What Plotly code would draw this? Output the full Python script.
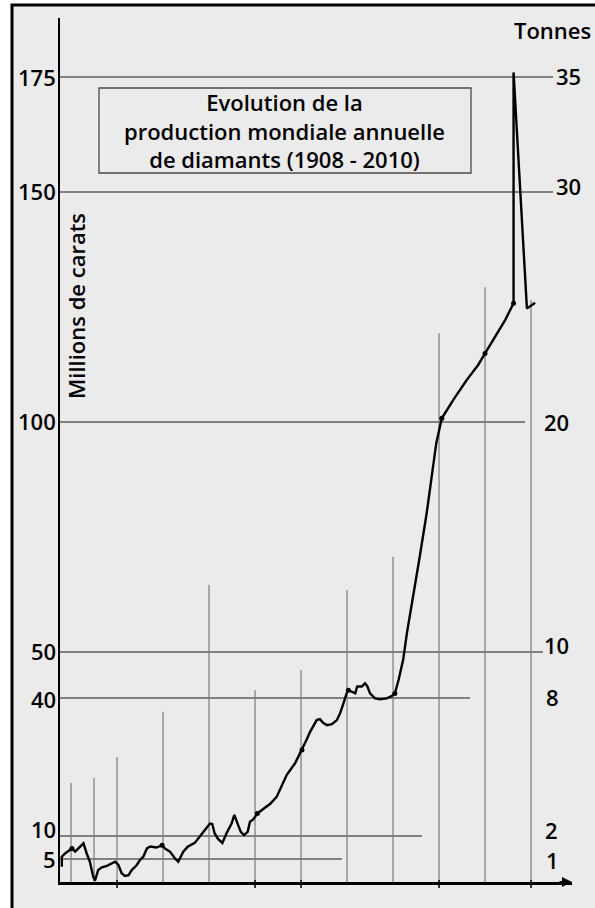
import plotly.graph_objects as go

# ---------------- data ----------------
years = [1908.0, 1908.0, 1908.7, 1909.8, 1910.2, 1910.9, 1911.6, 1912.7, 1913.4, 1914.1,
         1914.8, 1915.2, 1915.9, 1916.7, 1917.8, 1918.5, 1919.6, 1920.3, 1921.0, 1921.7,
         1922.5, 1923.2, 1924.3, 1925.0, 1925.7, 1926.5, 1927.2, 1928.6, 1929.8, 1930.4,
         1931.5, 1932.6, 1933.3, 1934.4, 1935.4, 1936.9, 1938.0, 1939.1, 1940.2, 1940.7,
         1941.2, 1942.0, 1942.9, 1943.8, 1944.9, 1945.5, 1946.2, 1946.9, 1947.6, 1948.4,
         1948.9, 1949.6, 1950.5, 1951.5, 1953.3, 1954.7, 1956.9, 1958.7, 1960.2, 1961.2,
         1962.0, 1962.7, 1963.4, 1964.1, 1964.8, 1965.6, 1966.7, 1967.8, 1968.5, 1969.2,
         1969.9, 1970.3, 1971.0, 1971.8, 1972.2, 1973.2, 1973.9, 1974.4, 1975.0, 1976.1,
         1977.2, 1978.6, 1979.7, 1980.4, 1981.2, 1982.2, 1983.0, 1984.4, 1985.8, 1987.3,
         1988.4, 1989.4, 1990.6, 1993.1, 1996.0, 1998.5, 2000.0, 2002.2, 2004.4, 2006.2,
         2006.2, 2009.1, 2010.9]
carats = [3.3, 5.5, 6.2, 7.0, 7.3, 6.6, 7.3, 8.4, 6.2, 4.4,
          1.2, 0.3, 2.6, 3.2, 3.5, 3.9, 4.4, 3.7, 1.9, 1.3,
          1.5, 2.6, 3.7, 4.8, 5.5, 7.3, 7.7, 7.5, 8.0, 7.3,
          6.6, 5.1, 4.4, 6.6, 7.7, 8.5, 9.8, 11.3, 12.7, 12.6,
          10.6, 9.3, 8.5, 10.6, 12.7, 14.6, 12.7, 10.9, 10.2, 10.9,
          13.1, 13.6, 14.9, 15.7, 17.0, 18.5, 23.3, 25.8, 28.7, 30.9,
          32.7, 33.8, 35.2, 35.4, 34.6, 34.1, 34.3, 35.2, 36.7, 38.8,
          41.0, 41.7, 41.3, 41.0, 42.5, 42.5, 43.2, 42.6, 41.0, 39.9,
          39.7, 39.9, 40.4, 41.0, 43.9, 48.3, 54.0, 62.0, 70.7, 80.1,
          88.1, 95.4, 100.8, 104.8, 109.1, 112.4, 114.9, 118.5, 122.2, 125.8,
          176.0, 124.7, 125.9]

dot_years = [1910.2, 1929.8, 1950.5, 1960.2, 1970.3, 1980.4, 1990.6, 2000.0, 2006.2]
dot_carats = [7.3, 8.0, 14.9, 28.7, 41.7, 41.0, 100.8, 114.9, 125.8]

# horizontal reference lines (millions of carats) and the matching tonnes
carat_ticks = [175, 150, 100, 50, 40, 10, 5]
carat_labels = ["175", "150", "100", "50", "40", "10", "5"]
tonne_labels = ["35", "30", "20", "10", "8", "2", "1"]

# vertical reference lines (years) and how high each is drawn (millions of carats)
vline_years = [1910, 1915, 1920, 1930, 1940, 1950, 1960, 1970, 1980, 1990, 2000, 2010]
vline_tops = [21.5, 22.6, 27.2, 37.0, 64.6, 41.7, 46.1, 63.5, 70.7, 119.3, 129.3, 126.5]

tick_years = [1920, 1950, 1960, 1990, 2010]

title_lines = ["Evolution de la", "production mondiale annuelle", "de diamants (1908 - 2010)"]
y_title = "Millions de carats"
right_title = "Tonnes"

# ---------------- layout geometry ----------------
W, H = 595, 908
L, R, T, B = 60, 23, 18, 26
PW, PH = W - L - R, H - T - B
X0, X1 = 1907.6, 1907.6 + PW / 4.6
Y0, Y1 = 0.0, PH / 4.6


def px(xp):
    return (xp - L) / PW


def py(yp):
    return 1 - (yp - T) / PH


FONT = "Open Sans"
WEIGHT = 600
fig = go.Figure()

shapes = []
# paper sheet with black frame (left and top borders visible)
shapes.append(dict(type="rect", xref="paper", yref="paper", layer="below",
                   x0=px(12), x1=px(640), y0=py(950), y1=py(5),
                   fillcolor="#ebebeb", line=dict(color="black", width=3)))

# vertical reference lines
for yr, top in zip(vline_years, vline_tops):
    shapes.append(dict(type="line", xref="x", yref="y", layer="below",
                       x0=yr, x1=yr, y0=0, y1=top,
                       line=dict(color="#7a7a7a", width=1.2)))

# horizontal reference lines (end position in pixels)
h_ends = [553, 553, 525, 543, 470, 422, 342]
for v, e in zip(carat_ticks, h_ends):
    shapes.append(dict(type="line", xref="paper", yref="y", layer="below",
                       x0=px(60), x1=px(e), y0=v, y1=v,
                       line=dict(color="#5e5e5e", width=1.4)))

# small ticks below the x axis
for yr in tick_years:
    shapes.append(dict(type="line", xref="x", yref="paper",
                       x0=yr, x1=yr, y0=py(880), y1=py(888),
                       line=dict(color="black", width=1.5)))

# title box
shapes.append(dict(type="rect", xref="paper", yref="paper", layer="below",
                   x0=px(99), x1=px(471), y0=py(173), y1=py(88),
                   line=dict(color="#4a4a4a", width=1.3)))

fig.add_trace(go.Scatter(x=years, y=carats, mode="lines",
                         line=dict(color="black", width=2.4), hoverinfo="skip",
                         showlegend=False))
fig.add_trace(go.Scatter(x=dot_years, y=dot_carats, mode="markers",
                         marker=dict(color="black", size=5), hoverinfo="skip",
                         showlegend=False))

ann = []
left_y = [77, 191, 421, 651, 699, 829, 859]
for lab, yp in zip(carat_labels, left_y):
    ann.append(dict(text=lab, xref="paper", yref="paper", x=px(58), y=py(yp),
                    xanchor="right", yanchor="middle", showarrow=False,
                    font=dict(family=FONT, size=22, color="black", weight=WEIGHT)))

right_y = [76, 186, 422, 645, 697, 830, 860]
right_x = [554, 554, 542, 542, 544, 543, 544]
for lab, yp, xp in zip(tonne_labels, right_y, right_x):
    ann.append(dict(text=lab, xref="paper", yref="paper", x=px(xp), y=py(yp),
                    xanchor="left", yanchor="middle", showarrow=False,
                    font=dict(family=FONT, size=22, color="black", weight=WEIGHT)))

ann.append(dict(text=right_title, xref="paper", yref="paper", x=px(552), y=py(30),
                xanchor="center", yanchor="middle", showarrow=False,
                font=dict(family=FONT, size=22, color="black", weight=WEIGHT)))

ann.append(dict(text=y_title, xref="paper", yref="paper", x=px(76), y=py(306),
                xanchor="center", yanchor="middle", textangle=-90, showarrow=False,
                font=dict(family=FONT, size=22, color="black", weight=WEIGHT)))

ann.append(dict(text="<br>".join(title_lines), xref="paper", yref="paper",
                x=px(284), y=py(130), xanchor="center", yanchor="middle",
                align="center", showarrow=False,
                font=dict(family=FONT, size=22, color="black", weight=WEIGHT)))

# arrow at the end of the x axis
ann.append(dict(text="", xref="x", yref="y", x=X1, y=0, ax=-14, ay=0,
                showarrow=True, arrowhead=2, arrowsize=1, arrowwidth=2,
                arrowcolor="black"))

fig.update_layout(
    width=W, height=H,
    margin=dict(l=L, r=R, t=T, b=B, pad=0),
    paper_bgcolor="white",
    plot_bgcolor="rgba(0,0,0,0)",
    shapes=shapes,
    annotations=ann,
    showlegend=False,
    xaxis=dict(range=[X0, X1], showgrid=False, zeroline=False, showticklabels=False,
               ticks="", showline=True, linecolor="black", linewidth=2.5,
               fixedrange=True),
    yaxis=dict(range=[Y0, Y1], showgrid=False, zeroline=False, showticklabels=False,
               ticks="", showline=True, linecolor="black", linewidth=2,
               fixedrange=True),
)

fig.write_html(
    "out.html",
    config={"displayModeBar": False},
    post_script="document.body.style.margin='0';"
                "document.body.style.overflow='hidden';"
                "document.documentElement.style.overflow='hidden';",
)
